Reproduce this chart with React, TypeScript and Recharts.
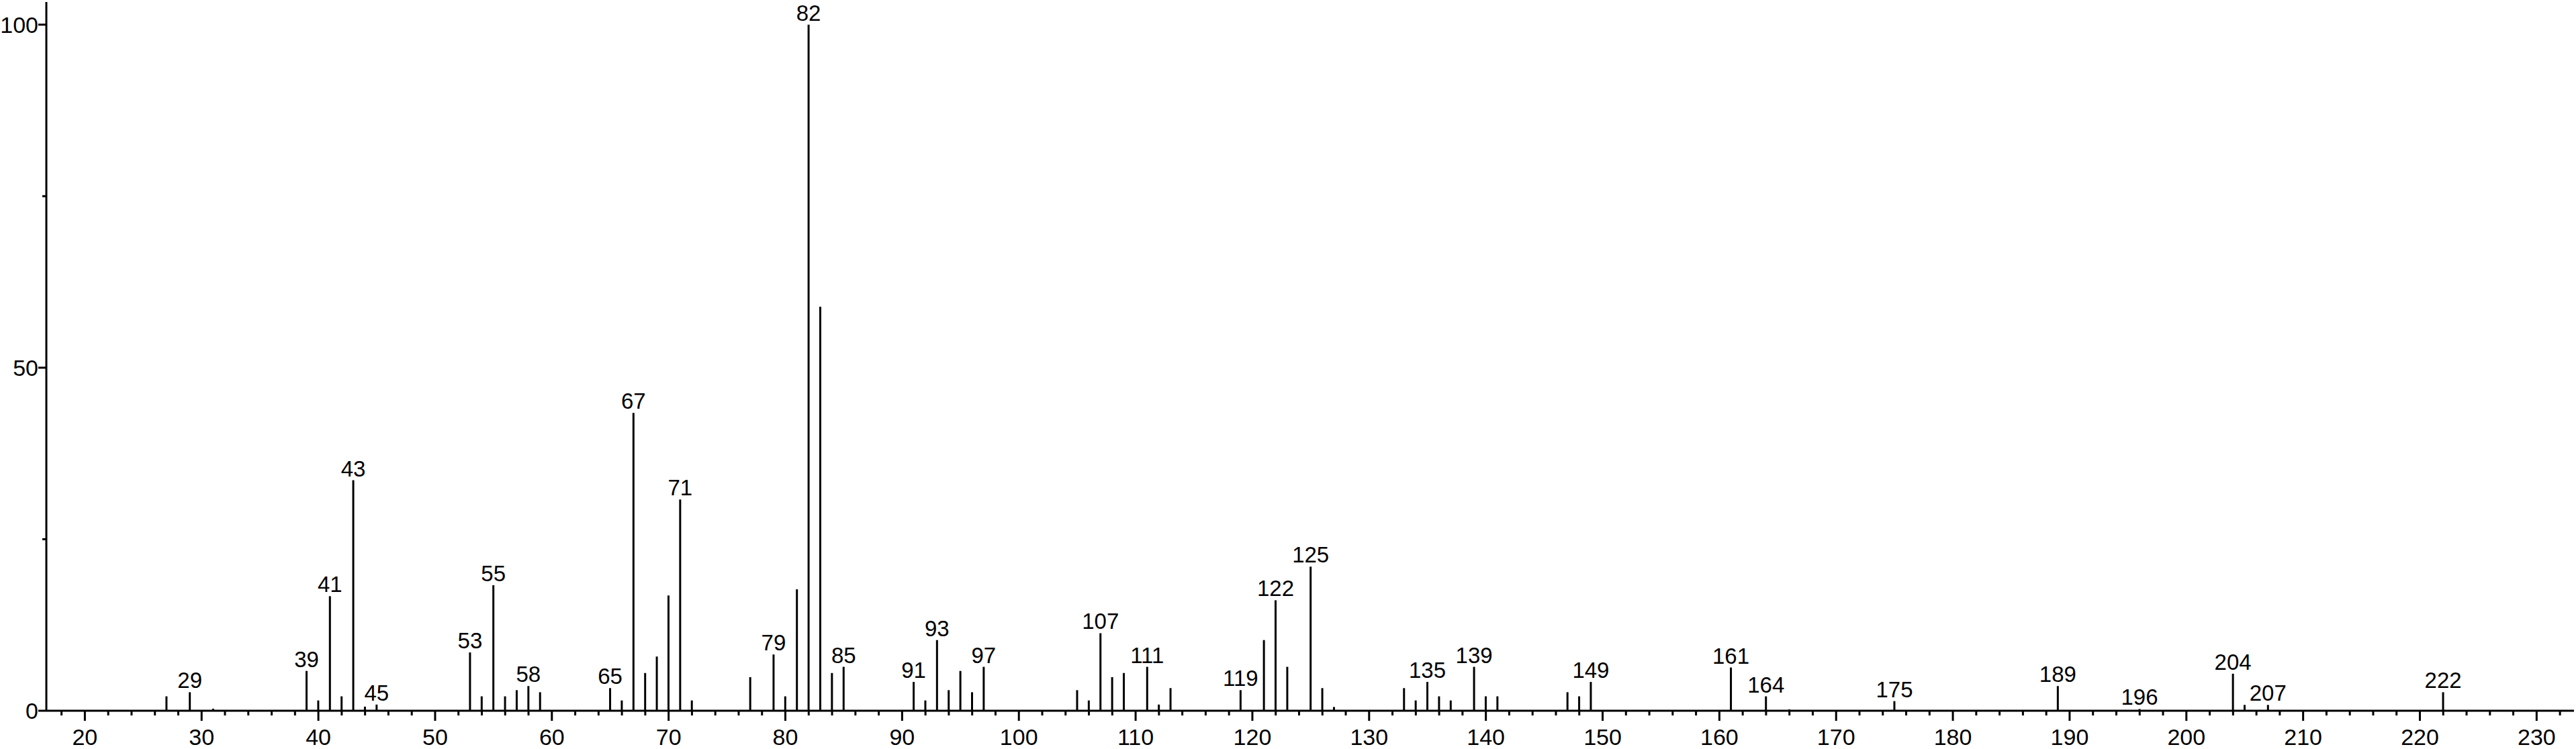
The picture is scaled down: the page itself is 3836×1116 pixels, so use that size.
import { BarChart, Bar, XAxis, YAxis, LabelList } from 'recharts';

// ── Data ──────────────────────────────────────────────────────────────────────

const MZ = [
  27, 29, 31, 39, 40, 41, 42, 43, 44, 45,
  53, 54, 55, 56, 57, 58, 59, 65, 66, 67,
  68, 69, 70, 71, 72, 77, 79, 80, 81, 82,
  83, 84, 85, 91, 92, 93, 94, 95, 96, 97,
  105, 106, 107, 108, 109, 111, 112, 113, 119, 121,
  122, 123, 125, 126, 127, 133, 134, 135, 136, 137,
  139, 140, 141, 147, 148, 149, 161, 164, 166, 175,
  189, 196, 204, 205, 207, 222,
];

const INTENSITY = [
  2.1, 2.7, 0.3, 5.8, 1.5, 16.7, 2.1, 33.6, 0.6, 0.9,
  8.5, 2.1, 18.3, 2.1, 3.0, 3.6, 2.7, 3.3, 1.5, 43.4,
  5.5, 7.9, 16.8, 30.8, 1.5, 4.9, 8.2, 2.1, 17.7, 100,
  58.9, 5.5, 6.4, 4.2, 1.5, 10.3, 3.0, 5.8, 2.7, 6.4,
  3.0, 1.5, 11.3, 4.9, 5.5, 6.4, 0.9, 3.3, 3.0, 10.3,
  16.1, 6.4, 21.0, 3.3, 0.55, 3.3, 1.5, 4.2, 2.1, 1.5,
  6.4, 2.1, 2.1, 2.7, 2.1, 4.2, 6.3, 2.1, 0.2, 1.4,
  3.6, 0.25, 5.4, 0.85, 0.85, 2.7,
];

const LABELED = [
  29, 39, 41, 43, 45, 53, 55, 58, 65, 67, 71, 79, 82, 85, 91, 93, 97,
  107, 111, 119, 122, 125, 135, 139, 149, 161, 164, 175, 189, 196, 204, 207, 222,
];

const X_MAJOR = [20, 30, 40, 50, 60, 70, 80, 90, 100, 110, 120, 130, 140, 150, 160, 170, 180, 190, 200, 210, 220, 230];
const Y_TICKS = [0, 25, 50, 75, 100];
const Y_LABELED = [0, 50, 100];

const X_DOMAIN: [number, number] = [16.7, 233.2];
const Y_DOMAIN: [number, number] = [0, 103.3];

// minor ticks every 2 units between the labelled ones
const X_TICKS: number[] = [];
for (let v = 18; v <= 232; v += 2) X_TICKS.push(v);

const FONT = '"Liberation Sans", Arial, sans-serif';

const data = MZ.map((mz, i) => ({
  mz,
  value: INTENSITY[i],
  label: LABELED.includes(mz) ? String(mz) : '',
}));

// ── Ticks ─────────────────────────────────────────────────────────────────────

function XTick({ x, y, payload }: any) {
  const v = payload.value as number;
  const major = X_MAJOR.includes(v);
  return (
    <g>
      <line x1={x} x2={x} y1={y} y2={y + (major ? 15 : 7)} stroke="#000" strokeWidth={3} />
      {major && (
        <text x={x} y={y + 51} textAnchor="middle" fontSize={34} fontFamily={FONT} fill="#000">
          {v}
        </text>
      )}
    </g>
  );
}

function YTick({ x, y, payload }: any) {
  const v = payload.value as number;
  const major = Y_LABELED.includes(v);
  return (
    <g>
      <line x1={x} x2={x - (major ? 12 : 6)} y1={y} y2={y} stroke="#000" strokeWidth={3} />
      {major && (
        <text x={x - 12} y={y + 12} textAnchor="end" fontSize={34} fontFamily={FONT} fill="#000">
          {v}
        </text>
      )}
    </g>
  );
}

function PeakLabel({ x, y, width, value }: any) {
  if (!value) return null;
  return (
    <text x={x + width / 2} y={y - 6} textAnchor="middle" fontSize={33} fontFamily={FONT} fill="#000">
      {value}
    </text>
  );
}

// ── Chart ─────────────────────────────────────────────────────────────────────

export default function App() {
  return (
    <div style={{ position: 'absolute', left: 0, top: 0, background: '#fff' }}>
      <BarChart
        width={3836}
        height={1116}
        data={data}
        margin={{ top: 3, right: 3, bottom: 0, left: 0 }}
        barCategoryGap={0}
      >
        <XAxis
          dataKey="mz"
          type="number"
          domain={X_DOMAIN}
          allowDataOverflow
          ticks={X_TICKS}
          interval={0}
          tickSize={0}
          tickMargin={0}
          tick={<XTick />}
          height={57}
          axisLine={{ stroke: '#000', strokeWidth: 3 }}
        />
        <YAxis
          type="number"
          domain={Y_DOMAIN}
          allowDataOverflow
          ticks={Y_TICKS}
          interval={0}
          tickSize={0}
          tickMargin={0}
          tick={<YTick />}
          width={69}
          axisLine={{ stroke: '#000', strokeWidth: 3 }}
        />
        <Bar dataKey="value" fill="#000" barSize={3} isAnimationActive={false}>
          <LabelList dataKey="label" content={<PeakLabel />} />
        </Bar>
      </BarChart>
    </div>
  );
}
